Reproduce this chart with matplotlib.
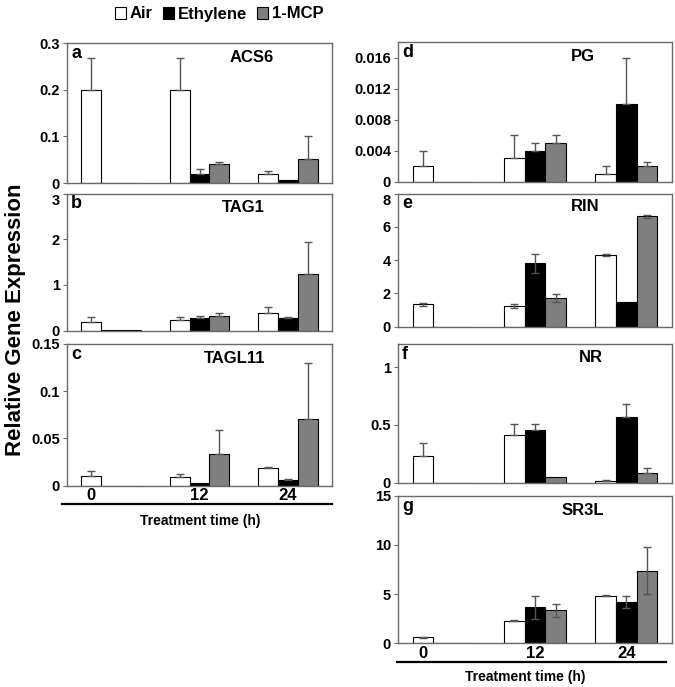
import numpy as np
import matplotlib
matplotlib.use("Agg")
import matplotlib.pyplot as plt
from matplotlib.patches import Patch
from matplotlib.lines import Line2D

plt.rcParams['font.family'] = ['Liberation Sans', 'DejaVu Sans']
plt.rcParams['font.weight'] = 'bold'

# --- Datos (horas 0, 12, 24) ---
times = ["0", "12", "24"]
treatments = ["Air", "Ethylene", "1-MCP"]

acs6_air = [0.2, 0.2, 0.02]
acs6_eth = [0, 0.02, 0.006]
acs6_mcp = [0, 0.04, 0.051]
acs6_air_err = [0.068, 0.068, 0.006]
acs6_eth_err = [0, 0.009, 0]
acs6_mcp_err = [0, 0.004, 0.049]

tag1_air = [0.2, 0.23, 0.39]
tag1_eth = [0.01, 0.27, 0.27]
tag1_mcp = [0.01, 0.33, 1.23]
tag1_air_err = [0.11, 0.08, 0.12]
tag1_eth_err = [0, 0.06, 0.02]
tag1_mcp_err = [0, 0.05, 0.70]

tagl11_air = [0.01, 0.009, 0.019]
tagl11_eth = [0, 0.003, 0.006]
tagl11_mcp = [0, 0.034, 0.071]
tagl11_air_err = [0.0055, 0.003, 0.0005]
tagl11_eth_err = [0, 0, 0.001]
tagl11_mcp_err = [0, 0.025, 0.059]

pg_air = [0.002, 0.003, 0.001]
pg_eth = [0, 0.004, 0.010]
pg_mcp = [0, 0.005, 0.002]
pg_air_err = [0.0019, 0.003, 0.001]
pg_eth_err = [0, 0.001, 0.006]
pg_mcp_err = [0, 0.001, 0.0006]

rin_air = [1.35, 1.25, 4.32]
rin_eth = [0, 3.8, 1.5]
rin_mcp = [0, 1.72, 6.63]
rin_air_err = [0.1, 0.1, 0.08]
rin_eth_err = [0, 0.58, 0]
rin_mcp_err = [0, 0.25, 0.07]

nr_air = [0.235, 0.415, 0.017]
nr_eth = [0, 0.458, 0.565]
nr_mcp = [0, 0.052, 0.082]
nr_air_err = [0.108, 0.095, 0.005]
nr_eth_err = [0, 0.047, 0.119]
nr_mcp_err = [0, 0, 0.048]

sr3l_air = [0.61, 2.27, 4.81]
sr3l_eth = [0, 3.66, 4.2]
sr3l_mcp = [0, 3.35, 7.38]
sr3l_air_err = [0.05, 0.05, 0.05]
sr3l_eth_err = [0, 1.15, 0.6]
sr3l_mcp_err = [0, 0.65, 2.4]

BAR_W = 0.225
COLORS = ['white', 'black', '#7f7f7f']
SPINE = '#6a6a6a'
ERRC = '#555555'

fig = plt.figure(figsize=(6.75, 6.87), dpi=100)


def panel(rect, letter, gene, gx, series, errs, ylim, yticks, ylabels,
          both=False, xlabels=False, top_down=False):
    ax = fig.add_axes(rect)
    x = np.arange(len(times))
    for i, (vals, err) in enumerate(zip(series, errs)):
        pos = x + (i - 1) * BAR_W
        ax.bar(pos, vals, BAR_W, color=COLORS[i], edgecolor='black', linewidth=0.8, zorder=2)
        err = np.array(err, dtype=float)
        mask = err > 0
        if mask.any():
            lo = err[mask] if both else np.zeros(mask.sum())
            ax.errorbar(pos[mask], np.array(vals)[mask], yerr=[lo, err[mask]], fmt='none',
                        ecolor=ERRC, elinewidth=1.0, capsize=3, capthick=1.0, zorder=3)
    ax.set_xlim(-0.5, 2.5)
    ax.set_ylim(*ylim)
    ax.set_yticks(yticks)
    ax.set_yticklabels(ylabels)
    ax.tick_params(axis='y', length=3, width=0.8, color=SPINE, labelsize=10.5, pad=2)
    if top_down:
        # la etiqueta superior queda bajo el "0" del panel de arriba
        ax.get_yticklabels()[-1].set_va('top')
    if xlabels:
        ax.set_xticks([-BAR_W, 1, 2])
        ax.set_xticklabels(times)
        ax.tick_params(axis='x', length=0, labelsize=12, pad=2)
    else:
        ax.set_xticks([])
    for s in ax.spines.values():
        s.set_color(SPINE)
        s.set_linewidth(1.0)
    ax.text(0.015, 0.925, letter, transform=ax.transAxes, fontsize=13, ha='left', va='center')
    ax.text(gx, 0.9, gene, transform=ax.transAxes, fontsize=12, ha='center', va='center')
    return ax


L = [0.0993, 0.3926]
R = [0.5896, 0.4059]

panel([L[0], 0.7336, L[1], 0.2038], 'a', 'ACS6', 0.695,
      [acs6_air, acs6_eth, acs6_mcp], [acs6_air_err, acs6_eth_err, acs6_mcp_err],
      (0, 0.3), [0, 0.1, 0.2, 0.3], ['0', '0.1', '0.2', '0.3'])
panel([L[0], 0.5186, L[1], 0.1997], 'b', 'TAG1', 0.664,
      [tag1_air, tag1_eth, tag1_mcp], [tag1_air_err, tag1_eth_err, tag1_mcp_err],
      (0, 3), [0, 1, 2, 3], ['0', '1', '2', '3'], top_down=True)
axc = panel([L[0], 0.2930, L[1], 0.2063], 'c', 'TAGL11', 0.634,
            [tagl11_air, tagl11_eth, tagl11_mcp], [tagl11_air_err, tagl11_eth_err, tagl11_mcp_err],
            (0, 0.15), [0, 0.05, 0.1, 0.15], ['0', '0.05', '0.1', '0.15'], xlabels=True)

panel([R[0], 0.7355, R[1], 0.2033], 'd', 'PG', 0.675,
      [pg_air, pg_eth, pg_mcp], [pg_air_err, pg_eth_err, pg_mcp_err],
      (0, 0.018), [0, 0.004, 0.008, 0.012, 0.016], ['0', '0.004', '0.008', '0.012', '0.016'])
panel([R[0], 0.5245, R[1], 0.1936], 'e', 'RIN', 0.682,
      [rin_air, rin_eth, rin_mcp], [rin_air_err, rin_eth_err, rin_mcp_err],
      (0, 8), [0, 2, 4, 6, 8], ['0', '2', '4', '6', '8'], both=True, top_down=True)
panel([R[0], 0.2974, R[1], 0.2019], 'f', 'NR', 0.704,
      [nr_air, nr_eth, nr_mcp], [nr_air_err, nr_eth_err, nr_mcp_err],
      (0, 1.2), [0, 0.5, 1], ['0', '0.5', '1'])
axg = panel([R[0], 0.0636, R[1], 0.2148], 'g', 'SR3L', 0.675,
            [sr3l_air, sr3l_eth, sr3l_mcp], [sr3l_air_err, sr3l_eth_err, sr3l_mcp_err],
            (0, 15), [0, 5, 10, 15], ['0', '5', '10', '15'], both=True, xlabels=True)

# lineas negras bajo los ejes
axc.add_line(Line2D([-0.019, 1.0], [-0.129, -0.129], transform=axc.transAxes,
                    color='black', linewidth=1.6, clip_on=False))
axg.add_line(Line2D([-0.004, 0.98], [-0.127, -0.127], transform=axg.transAxes,
                    color='black', linewidth=1.6, clip_on=False))

fig.text(200 / 675, 1 - 521 / 687, 'Treatment time (h)', fontsize=10, ha='center', va='center')
fig.text(525 / 675, 1 - 677 / 687, 'Treatment time (h)', fontsize=10, ha='center', va='center')

fig.text(16 / 675, 1 - 320 / 687, 'Relative Gene Expression', fontsize=16,
         rotation=90, ha='center', va='center')

handles = [Patch(facecolor=c, edgecolor='black', linewidth=0.8) for c in COLORS]
fig.legend(handles, treatments, loc='center', bbox_to_anchor=(219 / 675, 1 - 14 / 687),
           ncol=3, frameon=False, fontsize=12, handlelength=0.7, handleheight=0.7,
           handletextpad=0.2, columnspacing=0.6, borderpad=0)

fig.savefig('out.png', dpi=100)
